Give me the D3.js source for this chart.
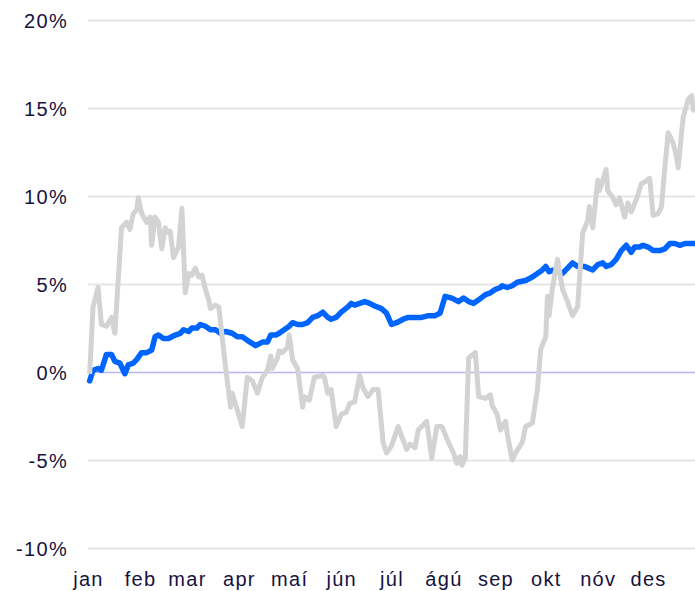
<!DOCTYPE html>
<html>
<head>
<meta charset="utf-8">
<script src="https://cdnjs.cloudflare.com/ajax/libs/d3/7.8.5/d3.min.js"></script>
<style>
  body { margin: 0; background: #fff; }
  text { font-family: "Liberation Sans", Arial, sans-serif; }
</style>
</head>
<body>
<div id="chart"></div>
<script>
// mánaðamerki (dagur ársins þar sem mánuður byrjar)
var monthDays = [0, 31, 59, 90, 120, 151, 181, 212, 243, 273, 304, 334];
var monthLabels = ["jan", "feb", "mar", "apr", "maí", "jún", "júl", "ágú", "sep", "okt", "nóv", "des"];
var yTicks = [-10, -5, 0, 5, 10, 15, 20];

// grá lína (samanburður)
var grayDays = [1, 3, 6, 8, 11, 14, 16, 20, 23, 25, 27, 29, 30, 32, 35, 37, 38, 40, 42, 44, 46, 48, 49, 51, 54, 56, 58, 60, 62, 64, 66, 68, 70, 72, 73, 76, 78, 80, 82, 85, 86, 92, 95, 98, 101, 104, 107, 109, 110, 113, 114, 116, 119, 120, 122, 125, 128, 129, 132, 135, 140, 141, 143, 145, 148, 151, 154, 156, 159, 162, 164, 167, 170, 173, 176, 178, 181, 185, 188, 190, 192, 195, 197, 202, 205, 208, 211, 215, 218, 220, 222, 223, 225, 227, 231, 233, 237, 240, 241, 244, 246, 249, 250, 253, 255, 259, 261, 265, 268, 270, 273, 274, 275, 277, 280, 283, 286, 287, 289, 292, 295, 298, 299, 301, 304, 305, 309, 310, 313, 315, 317, 320, 322, 324, 327, 330, 332, 335, 337, 340, 342, 344, 346, 349, 351, 352, 354, 355, 358, 360, 361, 362];
var grayValues = [-0.1, 3.7, 4.8, 2.7, 2.6, 3.1, 2.2, 8.2, 8.5, 8.1, 9.0, 9.2, 9.9, 9.0, 8.5, 8.8, 7.2, 8.8, 8.5, 7.0, 8.2, 7.9, 8.0, 6.5, 7.1, 9.3, 4.5, 5.6, 5.5, 5.9, 5.4, 5.5, 4.7, 4.1, 3.6, 3.8, 3.7, 2.0, 0.3, -2.0, -1.2, -3.1, -0.3, -0.5, -1.2, -0.3, 0.1, 0.9, 0.2, 0.8, 1.2, 1.1, 1.4, 2.1, 0.7, 0.2, -2.0, -1.4, -1.6, -0.3, -0.2, -0.3, -1.2, -1.0, -3.1, -2.4, -2.3, -1.8, -1.7, -0.2, -0.9, -1.4, -1.0, -1.0, -4.0, -4.6, -4.2, -3.1, -3.9, -4.4, -4.1, -4.3, -3.3, -2.8, -4.9, -3.1, -3.1, -4.0, -4.6, -5.2, -4.8, -5.3, -4.9, 0.8, 1.1, -1.4, -1.5, -1.3, -1.9, -2.4, -3.3, -2.8, -3.5, -5.0, -4.6, -4.0, -3.1, -2.9, -1.0, 1.3, 2.0, 4.3, 3.2, 4.8, 6.4, 4.7, 4.0, 3.7, 3.2, 3.7, 7.9, 8.6, 9.4, 8.2, 10.9, 10.3, 11.5, 10.3, 9.9, 9.5, 9.9, 8.8, 9.6, 9.1, 9.8, 10.7, 10.8, 11.0, 8.9, 9.0, 9.4, 11.6, 13.6, 13.0, 12.2, 11.6, 13.6, 14.5, 15.5, 15.7, 14.9, 14.8];

// blá lína
var blueDays = [1, 3, 6, 8, 11, 14, 16, 19, 22, 24, 27, 29, 32, 35, 38, 40, 42, 45, 48, 52, 55, 57, 60, 62, 65, 67, 70, 73, 76, 79, 82, 86, 89, 92, 95, 100, 104, 107, 109, 112, 114, 117, 120, 122, 125, 128, 131, 134, 137, 140, 143, 145, 148, 151, 155, 157, 159, 162, 165, 168, 171, 175, 178, 181, 184, 188, 191, 195, 199, 203, 207, 210, 213, 217, 221, 224, 227, 230, 233, 237, 240, 243, 246, 247, 250, 253, 256, 261, 265, 268, 271, 273, 275, 278, 283, 286, 289, 292, 296, 301, 304, 307, 309, 312, 315, 318, 321, 324, 326, 329, 331, 334, 337, 341, 344, 347, 350, 353, 356, 359, 362];
var blueValues = [-0.5, 0.1, 0.2, 0.1, 1.0, 1.0, 0.6, 0.5, -0.1, 0.4, 0.5, 0.7, 1.1, 1.1, 1.25, 2.0, 2.1, 1.9, 1.9, 2.1, 2.2, 2.4, 2.3, 2.5, 2.5, 2.7, 2.6, 2.4, 2.4, 2.2, 2.3, 2.2, 2.0, 2.0, 1.8, 1.5, 1.7, 1.7, 2.1, 2.1, 2.2, 2.4, 2.6, 2.8, 2.7, 2.7, 2.8, 3.1, 3.2, 3.4, 3.1, 3.0, 3.1, 3.4, 3.7, 3.9, 3.8, 3.9, 4.0, 3.9, 3.75, 3.6, 3.35, 2.7, 2.8, 3.0, 3.1, 3.1, 3.1, 3.2, 3.2, 3.35, 4.3, 4.2, 4.0, 4.2, 4.0, 3.9, 4.1, 4.4, 4.5, 4.7, 4.8, 4.9, 4.8, 4.9, 5.1, 5.2, 5.4, 5.6, 5.8, 6.0, 5.7, 5.8, 5.6, 5.9, 6.2, 6.0, 6.0, 5.8, 6.1, 6.2, 6.0, 6.1, 6.4, 6.9, 7.2, 6.8, 7.1, 7.1, 7.2, 7.1, 6.9, 6.9, 7.0, 7.3, 7.3, 7.2, 7.3, 7.3, 7.3];

//SVG
var width = 695;
var height = 591;
var margin = { top: 20, right: 0, bottom: 43, left: 88 };
var svg = d3.select("#chart").append("svg").attr("width", width).attr("height", height);

var xScale = d3.scaleLinear()
    .domain([0, 362])
    .range([margin.left, width - margin.right]);

var yScale = d3.scaleLinear()
    .domain([-10, 20])
    .range([height - margin.bottom, margin.top]);

//y-ás og hnitalínur
var axisy = d3.axisLeft(yScale)
    .tickValues(yTicks)
    .tickSize(-(width - margin.left - margin.right))
    .tickFormat(function(d) { return d + "%"; });

var gy = svg.append("g")
    .attr("transform", "translate(" + margin.left + ",0)")
    .call(axisy);
gy.select(".domain").remove();
gy.selectAll(".tick line")
    .attr("stroke", function(d) { return d === 0 ? "#b9b5fb" : "#e6e6e6"; })
    .attr("stroke-width", function(d) { return d === 0 ? 1.5 : 2; });
gy.selectAll(".tick text")
    .attr("x", -20)
    .attr("dy", "0.38em")
    .attr("fill", "#16123f")
    .attr("font-size", "20px")
    .attr("letter-spacing", "1.3px");

//x-ás
var axisx = d3.axisBottom(xScale)
    .tickValues(monthDays)
    .tickSize(0)
    .tickFormat(function(d, i) { return monthLabels[i]; });

var gx = svg.append("g")
    .attr("transform", "translate(0," + (height - margin.bottom) + ")")
    .call(axisx);
gx.select(".domain").remove();
gx.selectAll(".tick text")
    .attr("y", 38)
    .attr("dy", 0)
    .attr("fill", "#16123f")
    .attr("font-size", "20px")
    .attr("letter-spacing", "1.3px");

//línur
var line = d3.line()
    .x(function(d) { return xScale(d[0]); })
    .y(function(d) { return yScale(d[1]); });

var blue = blueDays.map(function(d, i) { return [d, blueValues[i]]; });
var gray = grayDays.map(function(d, i) { return [d, grayValues[i]]; });

svg.append("path")
    .datum(blue)
    .attr("fill", "none")
    .attr("stroke", "#0064ff")
    .attr("stroke-width", 5.5)
    .attr("stroke-linejoin", "round")
    .attr("stroke-linecap", "round")
    .attr("d", line);

svg.append("path")
    .datum(gray)
    .attr("fill", "none")
    .attr("stroke", "#d3d3d3")
    .attr("stroke-width", 5)
    .attr("stroke-linejoin", "round")
    .attr("d", line);
</script>
</body>
</html>
